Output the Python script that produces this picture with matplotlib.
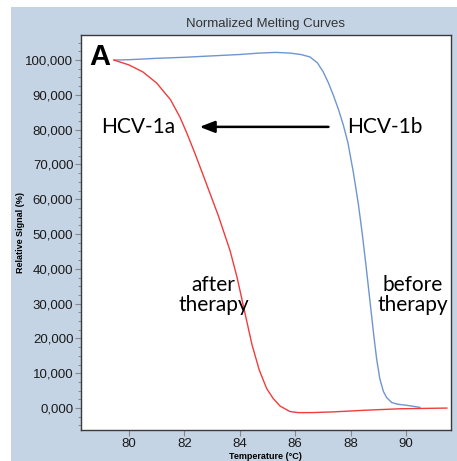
import matplotlib.pyplot as plt
from matplotlib.patches import Rectangle
from matplotlib.ticker import MultipleLocator, FuncFormatter

# HCV-1b, before therapy (blue)
before_temp = [79.46, 80.0, 81.0, 82.0, 83.0, 84.0, 84.7, 85.3, 85.81, 86.2, 86.53,
               86.8, 87.01, 87.2, 87.38, 87.56, 87.74, 87.9, 88.1, 88.28, 88.42,
               88.56, 88.7, 88.84, 88.94, 89.05, 89.18, 89.3, 89.48, 89.7, 90.02, 90.5]
before_signal = [100.0, 100.1, 100.5, 100.8, 101.2, 101.6, 102.0, 102.2, 102.0, 101.6, 100.9,
                 99.2, 96.6, 93.4, 89.8, 85.8, 81.2, 76.3, 67.6, 58.5, 50.0,
                 40.5, 30.5, 20.5, 14.0, 8.5, 4.8, 3.0, 1.6, 1.1, 0.8, 0.2]

# HCV-1a, after therapy (red)
after_temp = [79.46, 80.0, 80.5, 81.0, 81.5, 81.84, 82.1, 82.38, 82.74, 83.22, 83.65,
              83.9, 84.15, 84.44, 84.7, 84.97, 85.2, 85.45, 85.81, 86.1,
              86.6, 87.36, 88.58, 89.78, 90.6, 91.47]
after_signal = [100.0, 98.6, 96.6, 93.4, 88.6, 83.6, 78.8, 73.2, 65.6, 55.4, 45.2,
                37.6, 28.6, 18.2, 11.0, 5.6, 2.8, 0.6, -1.0, -1.3,
                -1.3, -1.1, -0.6, -0.2, -0.1, 0.0]

PANEL = "#c5d4e5"
BLUE, RED = "#6f95d0", "#f03c3c"
W, H = 457, 461

fig = plt.figure(figsize=(W / 100, H / 100), dpi=100, facecolor="white")
fig.patches.append(Rectangle((11 / W, 0), 1 - 11 / W, (H - 7) / H,
                             transform=fig.transFigure, facecolor=PANEL,
                             edgecolor="none", zorder=-10))

ax = fig.add_axes([81 / W, (H - 430) / H, (450.7 - 81) / W, (430 - 35) / H])
ax.set_facecolor("white")

ax.plot(before_temp, before_signal, color=BLUE, lw=1.0)
ax.plot(after_temp, after_signal, color=RED, lw=1.0)

ax.set_xlim(78.27, 91.61)
ax.set_ylim(-6.3, 107.2)
ax.xaxis.set_major_locator(MultipleLocator(2))
ax.yaxis.set_major_locator(MultipleLocator(10))
ax.yaxis.set_minor_locator(MultipleLocator(2.5))
ax.yaxis.set_major_formatter(FuncFormatter(lambda v, p: f"{v:.3f}".replace(".", ",")))

for s in ax.spines.values():
    s.set_color("#3a3a3a")
    s.set_linewidth(1.0)
ax.tick_params(axis="both", which="major", length=4, width=0.8, color="#888888",
               labelsize=9.5, labelcolor="#1a1a1a", pad=1.5)
ax.tick_params(axis="y", which="minor", length=2.5, width=0.7, color="#888888")
for lab in ax.get_xticklabels() + ax.get_yticklabels():
    lab.set_family("Liberation Sans")

ax.set_xlabel("Temperature (°C)", fontsize=6.5, fontweight="bold",
              family="Liberation Sans", labelpad=2)
ax.set_ylabel("Relative Signal (%)", fontsize=6.5, fontweight="bold",
              family="Liberation Sans", labelpad=8)
ax.yaxis.set_label_coords(-0.152, 0.5)
ax.set_title("Normalized Melting Curves", fontsize=9.5, color="#333333",
             family="Liberation Sans", pad=6)

ax.text(78.95, 100.9, "A", fontsize=21, fontweight="bold",
        family="Liberation Sans", ha="center", va="center")
ax.text(80.35, 80.8, "HCV-1a", fontsize=15, family="Lato", ha="center", va="center")
ax.text(89.25, 80.8, "HCV-1b", fontsize=15, family="Lato", ha="center", va="center")
ax.annotate("", xy=(82.45, 80.8), xytext=(87.3, 80.8),
            arrowprops=dict(arrowstyle="-|>,head_length=0.9,head_width=0.35",
                            color="black", lw=1.8))
ax.text(83.05, 32.5, "after\ntherapy", fontsize=15, family="Lato",
        ha="center", va="center", linespacing=1.05)
ax.text(90.25, 32.5, "before\ntherapy", fontsize=15, family="Lato",
        ha="center", va="center", linespacing=1.05)

fig.savefig("out.png", dpi=100, facecolor="white")
